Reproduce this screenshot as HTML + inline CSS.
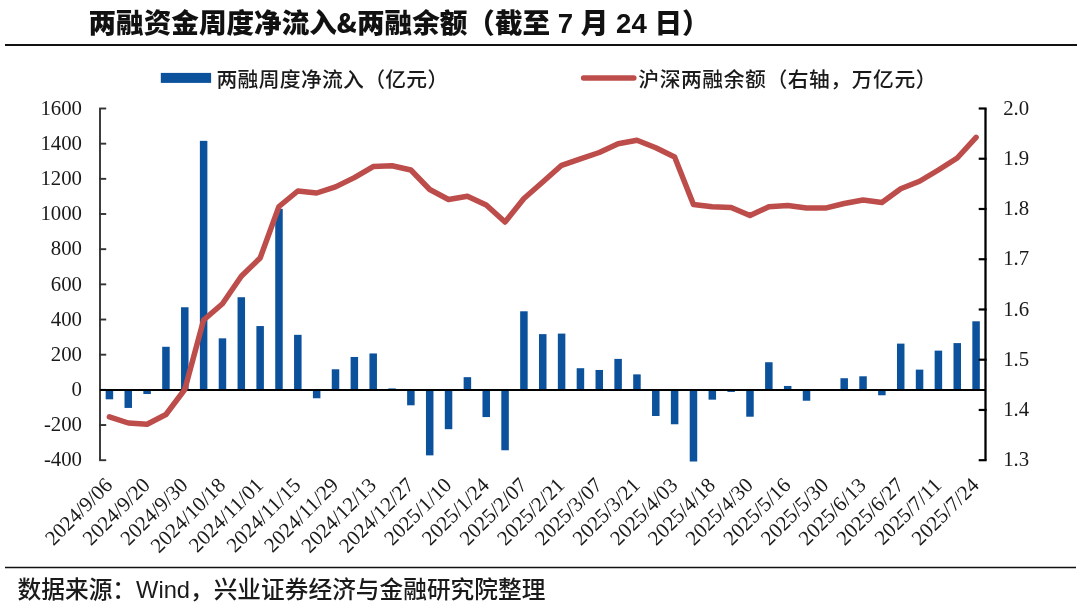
<!DOCTYPE html>
<html lang="en"><head><meta charset="utf-8"><style>
html,body{margin:0;padding:0;background:#fff;}
body{width:1080px;height:611px;overflow:hidden;position:relative;}
svg{position:absolute;left:0;top:0;}
.t{font-family:"Liberation Sans","Noto Sans CJK SC",sans-serif;}
.n{font-family:"Liberation Serif",serif;font-size:20px;fill:#1a1a1a;}
</style></head><body>
<svg width="1080" height="611" viewBox="0 0 1080 611">
<rect width="1080" height="611" fill="#fff"/>
<text class="t" lang="en" x="88.5" y="32.7" font-size="27.6" font-weight="900" fill="#111">两融资金周度净流入<tspan font-family="'Noto Sans CJK SC', sans-serif" font-size="26">&amp;</tspan>两融余额（截至 7 月 24 日）</text>
<line x1="5" y1="45" x2="1077" y2="45" stroke="#111" stroke-width="2"/>
<rect x="160.8" y="72.9" width="50.3" height="10" fill="#0b519b"/>
<text class="t" x="216.5" y="87" font-size="20.8" letter-spacing="0.3" font-weight="500" fill="#1a1a1a">两融周度净流入（亿元）</text>
<line x1="583.6" y1="78" x2="633.8" y2="78" stroke="#bd4d4a" stroke-width="5.5" stroke-linecap="round"/>
<text class="t" x="638.3" y="87" font-size="20.8" letter-spacing="0.55" font-weight="500" fill="#1a1a1a">沪深两融余额（右轴，万亿元）</text>
<g class="n">
<text x="82" y="114.70" text-anchor="end" font-size="20.8">1600</text>
<text x="82" y="149.87" text-anchor="end" font-size="20.8">1400</text>
<text x="82" y="185.04" text-anchor="end" font-size="20.8">1200</text>
<text x="82" y="220.21" text-anchor="end" font-size="20.8">1000</text>
<text x="82" y="255.38" text-anchor="end" font-size="20.8">800</text>
<text x="82" y="290.55" text-anchor="end" font-size="20.8">600</text>
<text x="82" y="325.72" text-anchor="end" font-size="20.8">400</text>
<text x="82" y="360.89" text-anchor="end" font-size="20.8">200</text>
<text x="82" y="396.06" text-anchor="end" font-size="20.8">0</text>
<text x="82" y="431.23" text-anchor="end" font-size="20.8">-200</text>
<text x="82" y="466.40" text-anchor="end" font-size="20.8">-400</text>
<text x="1003.2" y="114.70" font-size="20.8">2.0</text>
<text x="1003.2" y="164.94" font-size="20.8">1.9</text>
<text x="1003.2" y="215.19" font-size="20.8">1.8</text>
<text x="1003.2" y="265.43" font-size="20.8">1.7</text>
<text x="1003.2" y="315.67" font-size="20.8">1.6</text>
<text x="1003.2" y="365.91" font-size="20.8">1.5</text>
<text x="1003.2" y="416.16" font-size="20.8">1.4</text>
<text x="1003.2" y="466.40" font-size="20.8">1.3</text>
<text transform="translate(113.62,486.3) rotate(-45)" text-anchor="end" font-size="21">2024/9/06</text>
<text transform="translate(151.30,486.3) rotate(-45)" text-anchor="end" font-size="21">2024/9/20</text>
<text transform="translate(188.98,486.3) rotate(-45)" text-anchor="end" font-size="21">2024/9/30</text>
<text transform="translate(226.66,486.3) rotate(-45)" text-anchor="end" font-size="21">2024/10/18</text>
<text transform="translate(264.34,486.3) rotate(-45)" text-anchor="end" font-size="21">2024/11/01</text>
<text transform="translate(302.02,486.3) rotate(-45)" text-anchor="end" font-size="21">2024/11/15</text>
<text transform="translate(339.71,486.3) rotate(-45)" text-anchor="end" font-size="21">2024/11/29</text>
<text transform="translate(377.39,486.3) rotate(-45)" text-anchor="end" font-size="21">2024/12/13</text>
<text transform="translate(415.07,486.3) rotate(-45)" text-anchor="end" font-size="21">2024/12/27</text>
<text transform="translate(452.75,486.3) rotate(-45)" text-anchor="end" font-size="21">2025/1/10</text>
<text transform="translate(490.43,486.3) rotate(-45)" text-anchor="end" font-size="21">2025/1/24</text>
<text transform="translate(528.11,486.3) rotate(-45)" text-anchor="end" font-size="21">2025/2/07</text>
<text transform="translate(565.79,486.3) rotate(-45)" text-anchor="end" font-size="21">2025/2/21</text>
<text transform="translate(603.47,486.3) rotate(-45)" text-anchor="end" font-size="21">2025/3/07</text>
<text transform="translate(641.15,486.3) rotate(-45)" text-anchor="end" font-size="21">2025/3/21</text>
<text transform="translate(678.83,486.3) rotate(-45)" text-anchor="end" font-size="21">2025/4/03</text>
<text transform="translate(716.51,486.3) rotate(-45)" text-anchor="end" font-size="21">2025/4/18</text>
<text transform="translate(754.19,486.3) rotate(-45)" text-anchor="end" font-size="21">2025/4/30</text>
<text transform="translate(791.88,486.3) rotate(-45)" text-anchor="end" font-size="21">2025/5/16</text>
<text transform="translate(829.56,486.3) rotate(-45)" text-anchor="end" font-size="21">2025/5/30</text>
<text transform="translate(867.24,486.3) rotate(-45)" text-anchor="end" font-size="21">2025/6/13</text>
<text transform="translate(904.92,486.3) rotate(-45)" text-anchor="end" font-size="21">2025/6/27</text>
<text transform="translate(942.60,486.3) rotate(-45)" text-anchor="end" font-size="21">2025/7/11</text>
<text transform="translate(980.28,486.3) rotate(-45)" text-anchor="end" font-size="21">2025/7/24</text>
</g>
<rect x="105.67" y="390.00" width="7.5" height="9.31" fill="#0b519b"/>
<rect x="124.51" y="390.00" width="7.5" height="17.92" fill="#0b519b"/>
<rect x="143.35" y="390.00" width="7.5" height="4.04" fill="#0b519b"/>
<rect x="162.19" y="346.78" width="7.5" height="43.22" fill="#0b519b"/>
<rect x="181.03" y="307.25" width="7.5" height="82.75" fill="#0b519b"/>
<rect x="199.87" y="140.86" width="7.5" height="249.14" fill="#0b519b"/>
<rect x="218.71" y="338.34" width="7.5" height="51.66" fill="#0b519b"/>
<rect x="237.55" y="297.23" width="7.5" height="92.77" fill="#0b519b"/>
<rect x="256.39" y="326.05" width="7.5" height="63.95" fill="#0b519b"/>
<rect x="275.23" y="208.85" width="7.5" height="181.15" fill="#0b519b"/>
<rect x="294.07" y="334.83" width="7.5" height="55.17" fill="#0b519b"/>
<rect x="312.91" y="390.00" width="7.5" height="8.26" fill="#0b519b"/>
<rect x="331.76" y="369.27" width="7.5" height="20.73" fill="#0b519b"/>
<rect x="350.60" y="356.97" width="7.5" height="33.03" fill="#0b519b"/>
<rect x="369.44" y="353.45" width="7.5" height="36.55" fill="#0b519b"/>
<rect x="388.28" y="388.42" width="7.5" height="1.58" fill="#0b519b"/>
<rect x="407.12" y="390.00" width="7.5" height="15.29" fill="#0b519b"/>
<rect x="425.96" y="390.00" width="7.5" height="65.36" fill="#0b519b"/>
<rect x="444.80" y="390.00" width="7.5" height="39.18" fill="#0b519b"/>
<rect x="463.64" y="377.17" width="7.5" height="12.83" fill="#0b519b"/>
<rect x="482.48" y="390.00" width="7.5" height="27.06" fill="#0b519b"/>
<rect x="501.32" y="390.00" width="7.5" height="60.27" fill="#0b519b"/>
<rect x="520.16" y="311.29" width="7.5" height="78.71" fill="#0b519b"/>
<rect x="539.00" y="334.13" width="7.5" height="55.87" fill="#0b519b"/>
<rect x="557.84" y="333.60" width="7.5" height="56.40" fill="#0b519b"/>
<rect x="576.68" y="368.21" width="7.5" height="21.79" fill="#0b519b"/>
<rect x="595.52" y="369.97" width="7.5" height="20.03" fill="#0b519b"/>
<rect x="614.36" y="358.90" width="7.5" height="31.10" fill="#0b519b"/>
<rect x="633.20" y="374.36" width="7.5" height="15.64" fill="#0b519b"/>
<rect x="652.04" y="390.00" width="7.5" height="26.00" fill="#0b519b"/>
<rect x="670.88" y="390.00" width="7.5" height="34.26" fill="#0b519b"/>
<rect x="689.72" y="390.00" width="7.5" height="71.51" fill="#0b519b"/>
<rect x="708.56" y="390.00" width="7.5" height="9.66" fill="#0b519b"/>
<rect x="727.40" y="390.00" width="7.5" height="1.93" fill="#0b519b"/>
<rect x="746.24" y="390.00" width="7.5" height="26.71" fill="#0b519b"/>
<rect x="765.09" y="362.24" width="7.5" height="27.76" fill="#0b519b"/>
<rect x="783.93" y="385.96" width="7.5" height="4.04" fill="#0b519b"/>
<rect x="802.77" y="390.00" width="7.5" height="10.72" fill="#0b519b"/>
<rect x="821.61" y="390.00" width="7.5" height="0.53" fill="#0b519b"/>
<rect x="840.45" y="378.23" width="7.5" height="11.77" fill="#0b519b"/>
<rect x="859.29" y="376.30" width="7.5" height="13.70" fill="#0b519b"/>
<rect x="878.13" y="390.00" width="7.5" height="5.27" fill="#0b519b"/>
<rect x="896.97" y="343.62" width="7.5" height="46.38" fill="#0b519b"/>
<rect x="915.81" y="369.62" width="7.5" height="20.38" fill="#0b519b"/>
<rect x="934.65" y="350.64" width="7.5" height="39.36" fill="#0b519b"/>
<rect x="953.49" y="343.09" width="7.5" height="46.91" fill="#0b519b"/>
<rect x="972.33" y="321.30" width="7.5" height="68.70" fill="#0b519b"/>
<line x1="100.0" y1="108.5" x2="100.0" y2="460.2" stroke="#333" stroke-width="1.9"/>
<line x1="99.1" y1="108.50" x2="106.2" y2="108.50" stroke="#333" stroke-width="1.9"/>
<line x1="99.1" y1="143.67" x2="106.2" y2="143.67" stroke="#333" stroke-width="1.9"/>
<line x1="99.1" y1="178.84" x2="106.2" y2="178.84" stroke="#333" stroke-width="1.9"/>
<line x1="99.1" y1="214.01" x2="106.2" y2="214.01" stroke="#333" stroke-width="1.9"/>
<line x1="99.1" y1="249.18" x2="106.2" y2="249.18" stroke="#333" stroke-width="1.9"/>
<line x1="99.1" y1="284.35" x2="106.2" y2="284.35" stroke="#333" stroke-width="1.9"/>
<line x1="99.1" y1="319.52" x2="106.2" y2="319.52" stroke="#333" stroke-width="1.9"/>
<line x1="99.1" y1="354.69" x2="106.2" y2="354.69" stroke="#333" stroke-width="1.9"/>
<line x1="99.1" y1="389.86" x2="106.2" y2="389.86" stroke="#333" stroke-width="1.9"/>
<line x1="99.1" y1="425.03" x2="106.2" y2="425.03" stroke="#333" stroke-width="1.9"/>
<line x1="99.1" y1="460.20" x2="106.2" y2="460.20" stroke="#333" stroke-width="1.9"/>
<line x1="985.5" y1="108.5" x2="985.5" y2="460.2" stroke="#000" stroke-width="2.3"/>
<line x1="978.7" y1="108.50" x2="986.6" y2="108.50" stroke="#000" stroke-width="2.2"/>
<line x1="978.7" y1="158.74" x2="986.6" y2="158.74" stroke="#000" stroke-width="2.2"/>
<line x1="978.7" y1="208.99" x2="986.6" y2="208.99" stroke="#000" stroke-width="2.2"/>
<line x1="978.7" y1="259.23" x2="986.6" y2="259.23" stroke="#000" stroke-width="2.2"/>
<line x1="978.7" y1="309.47" x2="986.6" y2="309.47" stroke="#000" stroke-width="2.2"/>
<line x1="978.7" y1="359.71" x2="986.6" y2="359.71" stroke="#000" stroke-width="2.2"/>
<line x1="978.7" y1="409.96" x2="986.6" y2="409.96" stroke="#000" stroke-width="2.2"/>
<line x1="978.7" y1="460.20" x2="986.6" y2="460.20" stroke="#000" stroke-width="2.2"/>
<line x1="100.0" y1="390.0" x2="985.5" y2="390.0" stroke="#000" stroke-width="2.2"/>
<polyline points="109.42,416.80 128.26,423.00 147.10,424.20 165.94,414.50 184.78,389.50 203.62,320.00 222.46,303.75 241.30,276.25 260.14,258.00 278.98,206.50 297.82,191.00 316.66,193.00 335.51,186.90 354.35,177.60 373.19,166.60 392.03,165.75 410.87,170.00 429.71,189.50 448.55,199.50 467.39,196.25 486.23,205.00 505.07,222.00 523.91,198.50 542.75,182.00 561.59,165.30 580.43,158.80 599.27,152.50 618.11,143.80 636.95,140.20 655.79,147.80 674.63,157.00 693.47,204.50 712.31,206.75 731.15,207.50 749.99,215.50 768.84,206.75 787.68,205.60 806.52,208.00 825.36,208.10 844.20,203.50 863.04,200.00 881.88,202.50 900.72,188.75 919.56,181.25 938.40,170.00 957.24,158.00 976.08,137.30" fill="none" stroke="#bd4d4a" stroke-width="5.5" stroke-linejoin="round" stroke-linecap="round"/>
<line x1="5" y1="567.5" x2="1076" y2="567.5" stroke="#111" stroke-width="1.6"/>
<text class="t" x="17.6" y="598.3" font-size="23.7" font-weight="500" fill="#1a1a1a">数据来源：Wind，兴业证券经济与金融研究院整理</text>
</svg>
</body></html>
